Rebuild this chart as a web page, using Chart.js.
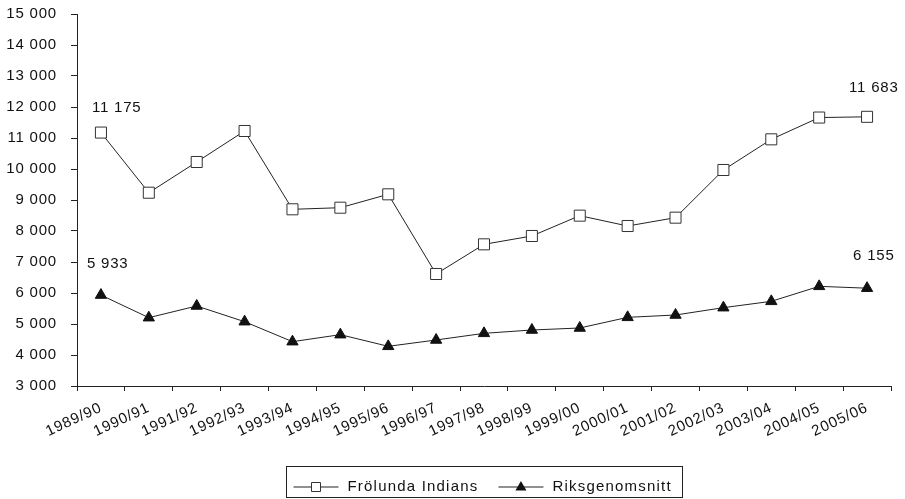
<!DOCTYPE html>
<html lang="sv">
<head>
<meta charset="UTF-8">
<title>Frölunda Indians – publiksnitt</title>
<script src="https://cdn.jsdelivr.net/npm/chart.js"></script>
<style>
    html, body { margin: 0; padding: 0; background: #fff; }
    #wrap { width: 905px; height: 499px; }
</style>
</head>
<body>
<div id="wrap"><canvas id="chart" width="905" height="499"></canvas></div>
<script>
const seasons = ['1989/90', '1990/91', '1991/92', '1992/93', '1993/94', '1994/95', '1995/96', '1996/97',
    '1997/98', '1998/99', '1999/00', '2000/01', '2001/02', '2002/03', '2003/04', '2004/05', '2005/06'];
const frolunda = [11175, 9235, 10226, 11226, 8700, 8752, 9183, 6613, 7570, 7839, 8495, 8161, 8430, 9968, 10957, 11660, 11683];
const riksgenomsnitt = [5933, 5204, 5581, 5075, 4430, 4656, 4280, 4484, 4699, 4806, 4871, 5215, 5290, 5527, 5731, 6215, 6155];
const seriesNames = ['Frölunda Indians', 'Riksgenomsnitt'];
const yMin = 3000, yMax = 15000, yStep = 1000;

const FONT = '"Liberation Sans", Arial, Helvetica, sans-serif';
const INK = '#111';

function fmt(n) {
    return String(Math.round(n)).replace(/\B(?=(\d{3})+(?!\d))/g, ' ');
}

// the original lettering is a bit wider than Liberation Sans
const spacingPlugin = {
    id: 'spacing',
    beforeUpdate(chart) { chart.ctx.letterSpacing = '0.8px'; },
    beforeDraw(chart) { chart.ctx.letterSpacing = '0.8px'; }
};

// value labels at the first and last season of each series
const endLabels = [
    { ds: 0, idx: 0, dx: -9, dy: -25 },
    { ds: 0, idx: 16, dx: -18, dy: -29 },
    { ds: 1, idx: 0, dx: -14, dy: -31 },
    { ds: 1, idx: 16, dx: -14, dy: -32 }
];

const endLabelPlugin = {
    id: 'endLabels',
    afterDatasetsDraw(chart) {
        const ctx = chart.ctx;
        ctx.save();
        ctx.font = '15px ' + FONT;
        ctx.fillStyle = INK;
        ctx.textAlign = 'left';
        ctx.textBaseline = 'middle';
        endLabels.forEach(l => {
            const pt = chart.getDatasetMeta(l.ds).data[l.idx];
            const v = chart.data.datasets[l.ds].data[l.idx];
            ctx.fillText(fmt(v), pt.x + l.dx, pt.y + l.dy);
        });
        ctx.restore();
    }
};

// boxed legend under the axis, centred on the plot area
const boxLegendPlugin = {
    id: 'boxLegend',
    afterDraw(chart) {
        const ctx = chart.ctx;
        const area = chart.chartArea;
        ctx.save();
        ctx.font = '15px ' + FONT;
        ctx.letterSpacing = '1.2px';
        const seg = 45, padL = 7, padR = 11, gapText = 9, gapItem = 20;
        const widths = chart.data.datasets.map(d => ctx.measureText(d.label).width);
        const total = padL + padR + widths.reduce((a, w) => a + seg + gapText + w, 0) + gapItem;
        const left = Math.round((area.left + area.right) / 2 - total / 2) + 0.5;
        const top = 466.5, h = 31;
        ctx.strokeStyle = '#222';
        ctx.lineWidth = 1;
        ctx.strokeRect(left, top, Math.round(total), h);
        const cy = top + h / 2 + 5;
        let x = left + padL;
        chart.data.datasets.forEach((d, i) => {
            ctx.beginPath();
            ctx.moveTo(x, cy);
            ctx.lineTo(x + seg, cy);
            ctx.strokeStyle = d.borderColor;
            ctx.stroke();
            const mx = x + seg / 2;
            ctx.beginPath();
            if (i === 0) {
                ctx.rect(mx - 4.5, cy - 4.5, 9, 9);
                ctx.fillStyle = '#fff';
                ctx.fill();
                ctx.strokeStyle = '#333';
                ctx.stroke();
            } else {
                ctx.moveTo(mx, cy - 6);
                ctx.lineTo(mx + 5.5, cy + 3.5);
                ctx.lineTo(mx - 5.5, cy + 3.5);
                ctx.closePath();
                ctx.fillStyle = INK;
                ctx.fill();
            }
            x += seg + gapText;
            ctx.fillStyle = INK;
            ctx.textAlign = 'left';
            ctx.textBaseline = 'middle';
            ctx.fillText(d.label, x, cy);
            x += widths[i] + gapItem;
        });
        ctx.restore();
    }
};

new Chart(document.getElementById('chart'), {
    type: 'line',
    data: {
        labels: seasons,
        datasets: [
            {
                label: seriesNames[0],
                data: frolunda,
                borderColor: '#222',
                borderWidth: 1,
                pointStyle: 'rect',
                pointRadius: 7.8,
                pointBackgroundColor: '#fff',
                pointBorderColor: '#333',
                pointBorderWidth: 1,
                tension: 0
            },
            {
                label: seriesNames[1],
                data: riksgenomsnitt,
                borderColor: '#222',
                borderWidth: 1,
                pointStyle: 'triangle',
                pointRadius: 6.5,
                pointBackgroundColor: INK,
                pointBorderColor: INK,
                pointBorderWidth: 1,
                tension: 0
            }
        ]
    },
    options: {
        responsive: false,
        animation: false,
        layout: { padding: { top: 14, right: 14, bottom: 0, left: 0 } },
        plugins: {
            legend: { display: false },
            tooltip: { enabled: false }
        },
        scales: {
            x: {
                offset: true,
                grid: { offset: true, drawOnChartArea: false, drawTicks: true, tickLength: 5, color: '#222' },
                border: { color: '#222' },
                ticks: {
                    autoSkip: false,
                    minRotation: 25,
                    maxRotation: 25,
                    padding: 8,
                    color: INK,
                    font: { family: FONT, size: 15 }
                },
                afterFit(scale) { scale.height = 113; }
            },
            y: {
                min: yMin,
                max: yMax,
                grid: { drawOnChartArea: false, drawTicks: true, tickLength: 6, color: '#222' },
                border: { color: '#222' },
                ticks: {
                    stepSize: yStep,
                    padding: 14,
                    color: INK,
                    font: { family: FONT, size: 15 },
                    callback: v => fmt(v)
                },
                afterFit(scale) {
                    scale.width = 77;
                    scale.paddingTop = 0;
                    scale.paddingBottom = 0;
                }
            }
        }
    },
    plugins: [spacingPlugin, endLabelPlugin, boxLegendPlugin]
});
</script>
</body>
</html>
